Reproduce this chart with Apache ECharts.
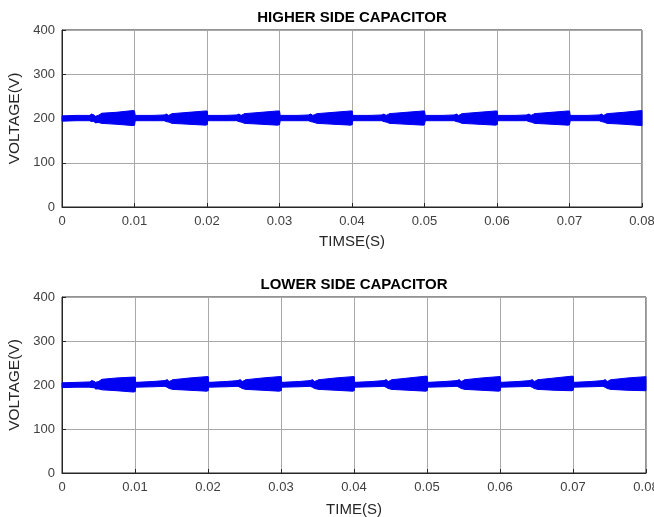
<!DOCTYPE html>
<html>
<head>
<meta charset="utf-8">
<script src="https://cdn.jsdelivr.net/npm/echarts@6/dist/echarts.min.js"></script>
<style>html,body{margin:0;padding:0;background:#fff}#c{width:654px;height:517px}</style>
</head>
<body>
<div id="c"></div>
<script>
// ---- data (envelope of the rippled voltage) ----
var xTicks = [0, 0.01, 0.02, 0.03, 0.04, 0.05, 0.06, 0.07, 0.08];
var yTicks = [0, 100, 200, 300, 400];

var topTime = [0.0000,0.0020,0.0038,0.0041,0.0044,0.0046,0.0050,0.0055,0.0075,0.0098,0.0100,
               0.0101,0.0125,0.0141,0.0144,0.0147,0.0152,0.0175,0.0198,0.0200,
               0.0201,0.0225,0.0241,0.0244,0.0247,0.0252,0.0275,0.0297,0.0300,
               0.0301,0.0325,0.0340,0.0343,0.0346,0.0352,0.0375,0.0398,0.0400,
               0.0401,0.0425,0.0441,0.0444,0.0447,0.0452,0.0475,0.0498,0.0500,
               0.0501,0.0525,0.0541,0.0544,0.0547,0.0552,0.0575,0.0598,0.0600,
               0.0601,0.0625,0.0641,0.0644,0.0647,0.0652,0.0675,0.0698,0.0700,
               0.0701,0.0725,0.0741,0.0744,0.0747,0.0752,0.0775,0.0800];
var topLow  = [194,195,195,193,194,190,191,189,187,184,185,
               195,195,195,193,192,189,187,185,186,
               195,195,195,193,192,189,187,185,186,
               195,195,195,193,192,189,187,185,186,
               195,195,195,193,192,189,187,185,186,
               195,195,195,193,192,189,187,185,186,
               195,195,195,193,192,189,187,185,186,
               195,195,195,193,192,189,187,184];
var topHigh = [206,207,207,210,208,205,207,212,214,218,217,
               207,207,208,210,207,211,214,217,217,
               207,207,208,210,207,211,214,217,217,
               207,207,208,210,207,211,214,217,217,
               207,207,208,210,207,211,214,217,217,
               207,207,208,210,207,211,214,217,217,
               207,207,208,210,207,211,214,217,217,
               207,207,208,210,207,211,214,218];

var botTime = [0.0000,0.0020,0.0038,0.0041,0.0044,0.0046,0.0050,0.0055,0.0075,0.0098,0.0100,
               0.0101,0.0125,0.0141,0.0144,0.0147,0.0152,0.0175,0.0198,0.0200,
               0.0201,0.0225,0.0241,0.0244,0.0247,0.0252,0.0275,0.0297,0.0300,
               0.0301,0.0325,0.0340,0.0343,0.0346,0.0352,0.0375,0.0398,0.0400,
               0.0401,0.0425,0.0441,0.0444,0.0447,0.0452,0.0475,0.0498,0.0500,
               0.0501,0.0525,0.0541,0.0544,0.0547,0.0552,0.0575,0.0598,0.0600,
               0.0601,0.0625,0.0641,0.0644,0.0647,0.0652,0.0675,0.0698,0.0700,
               0.0701,0.0725,0.0741,0.0744,0.0747,0.0752,0.0775,0.0800];
var botLow  = [194,195,195,194,194,191,191,189,187,184,185,
               195,196,197,195,192,190,188,186,187,
               195,196,197,195,192,190,188,186,187,
               195,196,197,195,192,190,188,186,187,
               195,196,197,195,192,190,188,186,187,
               195,196,197,195,192,190,188,186,187,
               195,196,197,195,192,190,188,187,188,
               195,196,197,195,192,190,188,187];
var botHigh = [205,206,207,210,208,206,208,213,216,218,218,
               206,208,210,212,208,212,216,219,219,
               206,208,210,212,208,212,216,219,219,
               206,208,210,212,208,212,216,219,219,
               206,208,210,212,208,212,216,220,220,
               206,208,210,212,208,212,216,219,219,
               206,208,210,212,208,212,216,220,220,
               206,208,210,212,208,212,216,219];

// ---- build ----
var BLUE = '#0000f2';
var FONT = 'Liberation Sans, Arial, sans-serif';

function xAxisFor(gi, name, gap){
  return {
    type:'value', gridIndex:gi, min:0, max:0.08, interval:0.01,
    name:name, nameLocation:'middle', nameGap:gap,
    nameTextStyle:{color:'#262626', fontSize:15, fontFamily:FONT},
    axisLine:{show:true, lineStyle:{color:'#262626', width:1}},
    axisTick:{show:true, inside:true, length:4, lineStyle:{color:'#262626'}},
    axisLabel:{color:'#404040', fontSize:13, fontFamily:FONT, margin:8,
      formatter:function(v){ return v===0 ? '0' : v.toFixed(2); }},
    splitLine:{show:true, lineStyle:{color:'#a8a8a8', width:1}}
  };
}
function yAxisFor(gi){
  return {
    type:'value', gridIndex:gi, min:0, max:400, interval:100,
    name:'VOLTAGE(V)', nameLocation:'middle', nameGap:31, nameRotate:90,
    nameTextStyle:{color:'#262626', fontSize:15.5, fontFamily:FONT},
    axisLine:{show:true, lineStyle:{color:'#262626', width:1}},
    axisTick:{show:true, inside:true, length:4, lineStyle:{color:'#262626'}},
    axisLabel:{color:'#404040', fontSize:13, fontFamily:FONT, margin:7},
    splitLine:{show:true, lineStyle:{color:'#a8a8a8', width:1}}
  };
}
// envelope band: each data item draws the quad from point i to point i+1
function band(gi, t, lo, hi){
  var data = t.slice(0, t.length - 1).map(function(x, i){
    return [x, lo[i], hi[i], t[i+1], lo[i+1], hi[i+1]];
  });
  return {
    type:'custom', xAxisIndex:gi, yAxisIndex:gi, data:data, silent:true, animation:false,
    encode:{x:[0,3], y:[1,2,4,5]},
    renderItem:function(params, api){
      var p1 = api.coord([api.value(0), api.value(2)]);
      var p2 = api.coord([api.value(3), api.value(5)]);
      var p3 = api.coord([api.value(3), api.value(4)]);
      var p4 = api.coord([api.value(0), api.value(1)]);
      return {
        type:'polygon',
        shape:{points:[p1, p2, p3, p4]},
        style:{fill:BLUE, stroke:BLUE, lineWidth:1}
      };
    }
  };
}

var chart = echarts.init(document.getElementById('c'), null, {renderer:'canvas'});
chart.setOption({
  backgroundColor:'#fff',
  animation:false,
  grid:[
    {left:62, top:30, width:580, height:177, show:true, borderColor:'#262626', borderWidth:1, backgroundColor:'#fff', containLabel:false, outerBoundsMode:'none'},
    {left:62, top:297, width:584, height:176, show:true, borderColor:'#262626', borderWidth:1, backgroundColor:'#fff', containLabel:false, outerBoundsMode:'none'}
  ],
  xAxis:[xAxisFor(0,'TIMSE(S)',27), xAxisFor(1,'TIME(S)',29)],
  yAxis:[yAxisFor(0), yAxisFor(1)],
  series:[band(0, topTime, topLow, topHigh), band(1, botTime, botLow, botHigh)],
  graphic:[
    {type:'text', x:352, y:18, style:{text:'HIGHER SIDE CAPACITOR', fill:'#000', font:'bold 15px '+FONT, textAlign:'center', textVerticalAlign:'middle'}},
    {type:'text', x:354, y:285, style:{text:'LOWER SIDE CAPACITOR', fill:'#000', font:'bold 15px '+FONT, textAlign:'center', textVerticalAlign:'middle'}}
  ]
});
</script>
</body>
</html>
